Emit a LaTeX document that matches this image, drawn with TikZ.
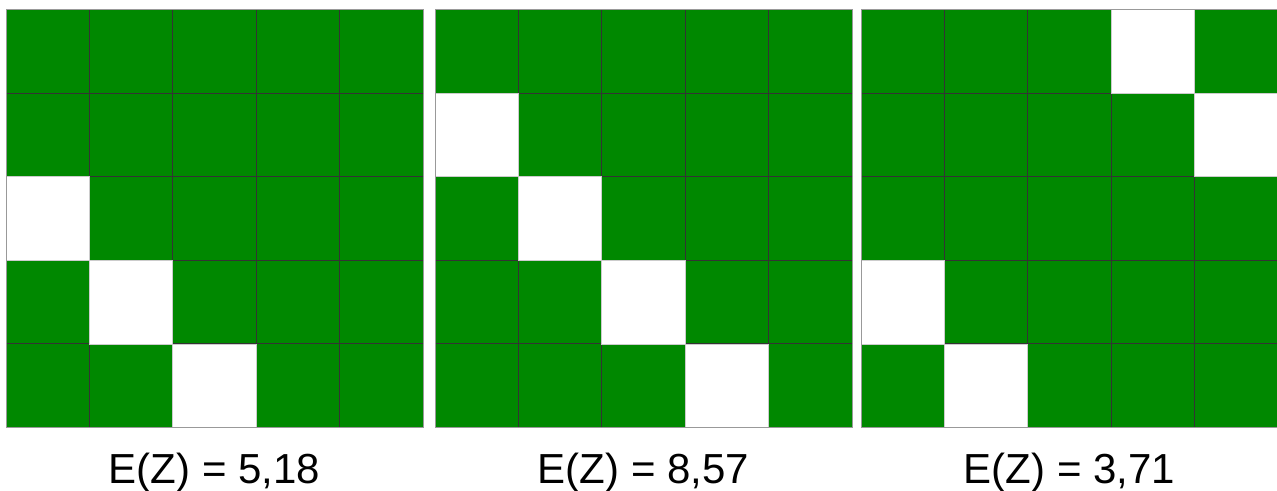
\documentclass[tikz,border=0pt]{standalone}
\usepackage{fontspec}
\setmainfont{Liberation Sans}
\usepackage{xcolor}
\usetikzlibrary{positioning}
\definecolor{gridgreen}{RGB}{0,136,0}

\begin{document}
\begin{tikzpicture}[
  x=1pt, y=-1pt,
  greenfield/.style={fill=gridgreen},
  blankcell/.style={fill=white},
  blankedge/.style={draw=black!20, line width=0.8pt},
  gridline/.style={draw=black!80, line width=1pt},
  outline/.style={draw=black!40, line width=0.8pt},
  caption/.style={anchor=base, font=\fontsize{42}{50}\selectfont, inner sep=0pt}
]
\useasboundingbox (0,0) rectangle (1277,490);

\foreach \gx/\val/\blanks [count=\i] in {6/{5,18}/{0/2,1/3,2/4}, 435/{8,57}/{0/1,1/2,2/3,3/4}, 861/{3,71}/{3/0,4/1,0/3,1/4}} {
  \fill[greenfield] (\gx,9.5) rectangle ++(417,418);
  \foreach \k in {1,...,4} {
    \draw[gridline] (\gx+\k*83.4,9.5) -- ++(0,418);
    \draw[gridline] (\gx,9.5+\k*83.6) -- ++(417,0);
  }
  \foreach \c/\r in \blanks {
    \fill[blankcell] (\gx+\c*83.4,9.5+\r*83.6) rectangle ++(83.4,83.6);
    \draw[blankedge] (\gx+\c*83.4,9.5+\r*83.6) rectangle ++(83.4,83.6);
  }
  \draw[outline] (\gx,9.5) rectangle ++(417,418);
  \node[caption] (score\i) at (\gx+208.5,483) {E(Z) = \val};
}
\end{tikzpicture}
\end{document}
